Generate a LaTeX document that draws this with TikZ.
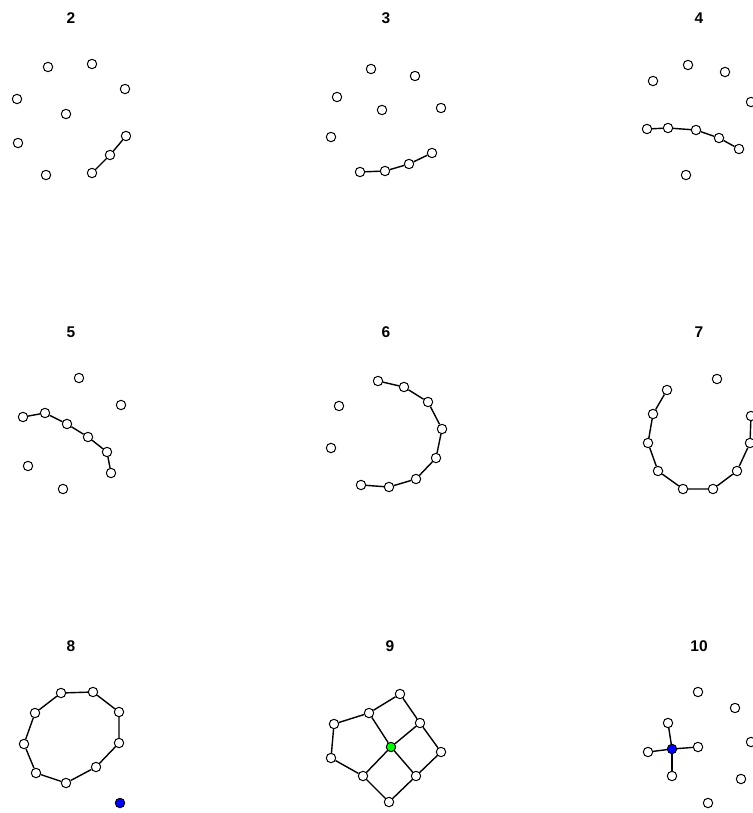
\documentclass[tikz,border=0pt]{standalone}
\usepackage{fontspec}
\setmainfont{Liberation Sans}
\definecolor{rblue}{RGB}{0,0,255}
\definecolor{rgreen}{RGB}{0,255,0}
\tikzset{
  vtx/.style={circle,draw=black,fill=white,line width=1pt,minimum size=9.4pt,inner sep=0pt},
  bluevtx/.style={vtx,fill=rblue},
  greenvtx/.style={vtx,fill=rgreen},
  edg/.style={line width=1.4pt,black},
  ttl/.style={font=\bfseries\fontsize{15.5}{15.5}\selectfont,inner sep=0pt}
}
\begin{document}
\begin{tikzpicture}[x=1pt,y=-1pt]
\useasboundingbox (0,0) rectangle (752,813);
% ---------- panel 2
\node[ttl] (t2) at (71,18) {2};
\node[vtx] (a1) at (48,67) {};
\node[vtx] (a2) at (92,64) {};
\node[vtx] (a3) at (17,99) {};
\node[vtx] (a4) at (125,89) {};
\node[vtx] (a5) at (66,114) {};
\node[vtx] (a6) at (18,143) {};
\node[vtx] (a7) at (126,136) {};
\node[vtx] (a8) at (110,155) {};
\node[vtx] (a9) at (92,173) {};
\node[vtx] (a10) at (46,175) {};
\draw[edg] (a7) -- (a8) -- (a9);
% ---------- panel 3
\node[ttl] (t3) at (386,18) {3};
\node[vtx] (b1) at (371,69) {};
\node[vtx] (b2) at (415,76) {};
\node[vtx] (b3) at (337,97) {};
\node[vtx] (b4) at (382,110) {};
\node[vtx] (b5) at (441,108) {};
\node[vtx] (b6) at (331,137) {};
\node[vtx] (b7) at (432,153) {};
\node[vtx] (b8) at (409,164) {};
\node[vtx] (b9) at (385,171) {};
\node[vtx] (b10) at (360,172) {};
\draw[edg] (b10) -- (b9) -- (b8) -- (b7);
% ---------- panel 4
\node[ttl] (t4) at (699,18) {4};
\node[vtx] (c1) at (688,65) {};
\node[vtx] (c2) at (725,72) {};
\node[vtx] (c3) at (653,81) {};
\node[vtx] (c4) at (751,102) {};
\node[vtx] (c5) at (647,129) {};
\node[vtx] (c6) at (668,128) {};
\node[vtx] (c7) at (696,130) {};
\node[vtx] (c8) at (719,138) {};
\node[vtx] (c9) at (739,149) {};
\node[vtx] (c10) at (686,175) {};
\draw[edg] (c5) -- (c6) -- (c7) -- (c8) -- (c9);
% ---------- panel 5
\node[ttl] (t5) at (71,332) {5};
\node[vtx] (d1) at (79,378) {};
\node[vtx] (d2) at (121,405) {};
\node[vtx] (d3) at (23,417) {};
\node[vtx] (d4) at (45,413) {};
\node[vtx] (d5) at (67,424) {};
\node[vtx] (d6) at (88,437) {};
\node[vtx] (d7) at (107,452) {};
\node[vtx] (d8) at (111,473) {};
\node[vtx] (d9) at (28,466) {};
\node[vtx] (d10) at (63,489) {};
\draw[edg] (d3) -- (d4) -- (d5) -- (d6) -- (d7) -- (d8);
% ---------- panel 6
\node[ttl] (t6) at (386,332) {6};
\node[vtx] (e1) at (378,381) {};
\node[vtx] (e2) at (404,387) {};
\node[vtx] (e3) at (428,402) {};
\node[vtx] (e4) at (442,429) {};
\node[vtx] (e5) at (436,458) {};
\node[vtx] (e6) at (416,479) {};
\node[vtx] (e7) at (389,487) {};
\node[vtx] (e8) at (361,485) {};
\node[vtx] (e9) at (339,406) {};
\node[vtx] (e10) at (331,448) {};
\draw[edg] (e1) -- (e2) -- (e3) -- (e4) -- (e5) -- (e6) -- (e7) -- (e8);
% ---------- panel 7
\node[ttl] (t7) at (699,332) {7};
\node[vtx] (f1) at (667,390) {};
\node[vtx] (f2) at (653,414) {};
\node[vtx] (f3) at (648,443) {};
\node[vtx] (f4) at (658,471) {};
\node[vtx] (f5) at (683,489) {};
\node[vtx] (f6) at (713,489) {};
\node[vtx] (f7) at (737,471) {};
\node[vtx] (f8) at (750,443) {};
\node[vtx] (f9) at (751,416) {};
\node[vtx] (f10) at (717,379) {};
\draw[edg] (f1) -- (f2) -- (f3) -- (f4) -- (f5) -- (f6) -- (f7) -- (f8) -- (f9);
% ---------- panel 8
\node[ttl] (t8) at (71,646) {8};
\node[vtx] (g1) at (61,693) {};
\node[vtx] (g2) at (93,692) {};
\node[vtx] (g3) at (119,712) {};
\node[vtx] (g4) at (119,743) {};
\node[vtx] (g5) at (96,767) {};
\node[vtx] (g6) at (66,783) {};
\node[vtx] (g7) at (36,773) {};
\node[vtx] (g8) at (24,744) {};
\node[vtx] (g9) at (35,713) {};
\node[bluevtx] (g10) at (120,803) {};
\draw[edg] (g1) -- (g2) -- (g3) -- (g4) -- (g5) -- (g6) -- (g7) -- (g8) -- (g9) -- (g1);
% ---------- panel 9
\node[ttl] (t9) at (390,646) {9};
\node[vtx] (hA) at (400,694) {};
\node[vtx] (hB) at (369,713) {};
\node[vtx] (hC) at (420,723) {};
\node[vtx] (hD) at (334,724) {};
\node[greenvtx] (hG) at (391,747) {};
\node[vtx] (hE) at (441,752) {};
\node[vtx] (hF) at (331,758) {};
\node[vtx] (hH) at (363,776) {};
\node[vtx] (hI) at (416,776) {};
\node[vtx] (hJ) at (389,802) {};
\draw[edg] (hA) -- (hB);
\draw[edg] (hA) -- (hC);
\draw[edg] (hB) -- (hD);
\draw[edg] (hD) -- (hF);
\draw[edg] (hF) -- (hH);
\draw[edg] (hB) -- (hG);
\draw[edg] (hC) -- (hG);
\draw[edg] (hG) -- (hH);
\draw[edg] (hG) -- (hI);
\draw[edg] (hC) -- (hE);
\draw[edg] (hE) -- (hI);
\draw[edg] (hH) -- (hJ);
\draw[edg] (hI) -- (hJ);
% ---------- panel 10
\node[ttl] (t10) at (699,646) {10};
\node[vtx] (k1) at (698,692) {};
\node[vtx] (k2) at (735,708) {};
\node[vtx] (k3) at (668,723) {};
\node[vtx] (k4) at (751,742) {};
\node[vtx] (k5) at (648,752) {};
\node[bluevtx] (k6) at (672,749) {};
\node[vtx] (k7) at (698,747) {};
\node[vtx] (k8) at (672,776) {};
\node[vtx] (k9) at (741,779) {};
\node[vtx] (k10) at (708,803) {};
\draw[edg] (k6) -- (k3);
\draw[edg] (k6) -- (k5);
\draw[edg] (k6) -- (k7);
\draw[edg] (k6) -- (k8);
\end{tikzpicture}
\end{document}
